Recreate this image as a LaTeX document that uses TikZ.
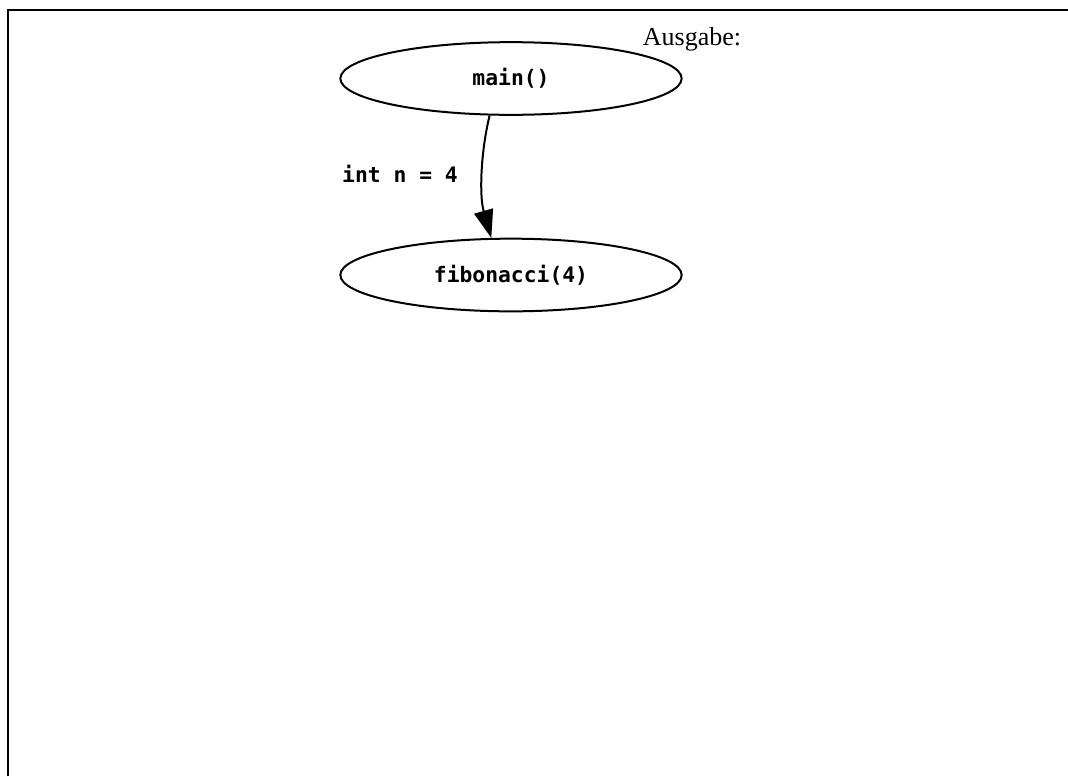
\documentclass[tikz,border=0pt]{standalone}
\usepackage{fontspec}
\setmainfont{Liberation Serif}
\newfontfamily\codefont{DejaVu Sans Mono}
\usetikzlibrary{arrows.meta,shapes.geometric}
\tikzset{
  fn/.style={draw, ellipse, line width=1.5pt, minimum width=256pt, minimum height=54.5pt, inner sep=0pt, font=\codefont\bfseries\fontsize{16}{18}\selectfont},
  call/.style={line width=1.5pt, -{Triangle[length=21pt,width=14.5pt]}},
  lbl/.style={font=\codefont\bfseries\fontsize{16}{18}\selectfont, inner sep=0pt},
}
\begin{document}
\begin{tikzpicture}[x=0.75pt,y=-0.75pt]
\useasboundingbox (0,0) rectangle (1068,776);
\draw[line width=1.5pt] (8,776) -- (8,10) -- (1068,10);
\node[fn] (main) at (511,78.5) {main()};
\node[fn] (fib) at (511,275) {fibonacci(4)};
\node[inner sep=0pt, anchor=base, font=\fontsize{19.5}{22}\selectfont] (out) at (692,45) {Ausgabe:};
\node[lbl] (arg) at (400,174) {int n = 4};
\draw[call] (main.-120) .. controls (481,150) and (479,195) .. (fib.118);
\end{tikzpicture}
\end{document}
